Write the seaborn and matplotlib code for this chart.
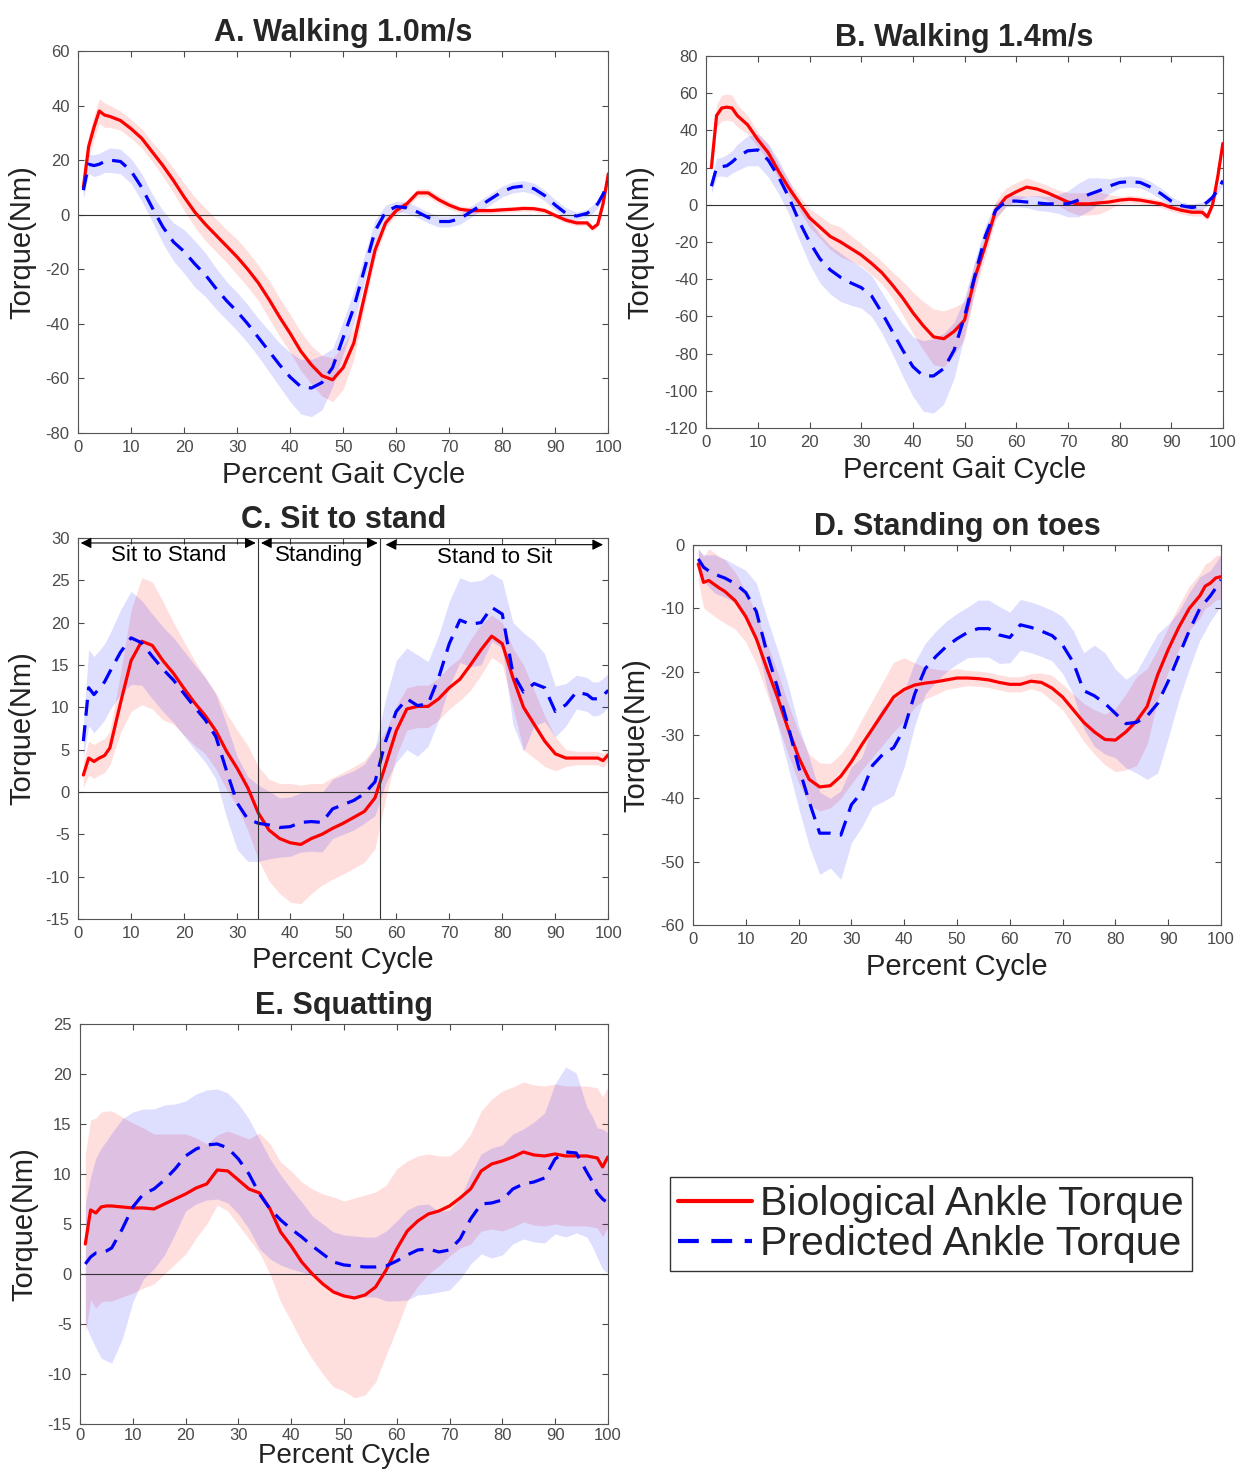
import numpy as np
import matplotlib.pyplot as plt
import seaborn as sns
from matplotlib.lines import Line2D

# percent of cycle where values were read
pct = [1, 2, 3, 4, 5, 6, 8, 10, 12, 14,
       16, 18, 20, 22, 24, 26, 28, 30, 32, 34,
       36, 38, 40, 42, 44, 46, 48, 50, 52, 54,
       56, 58, 60, 62, 64, 66, 68, 70, 72, 74,
       76, 78, 80, 82, 84, 86, 88, 90, 92, 94,
       96, 97, 98, 99, 100]

# A. walking 1.0 m/s
a_bio = [10, 25, 32, 38, 36.5, 36, 34.5, 31.5, 28, 23,
         18, 12.5, 6.5, 1, -3.5, -7.5, -11.5, -15.5, -20, -25,
         -31, -37.5, -43.5, -50, -55, -59, -60.5, -56, -47, -30,
         -13, -3, 1.5, 4, 8, 8, 5.5, 3.5, 2, 1.5,
         1.5, 1.5, 1.8, 2, 2.3, 2.2, 1.5, -0.3, -2, -3,
         -3, -5, -3.5, 4, 15]
a_bio_sd = [3, 4, 4.5, 4.5, 4.5, 4, 3.5, 3.5, 3.5, 3.5,
            4, 4.5, 5, 5.5, 6, 6, 6, 6.5, 6.5, 6.5,
            7, 7, 7, 7, 7, 7.5, 8, 8, 6, 4,
            3, 2, 1.5, 1.5, 1.5, 1.5, 1.5, 1.5, 1.2, 1.2,
            1, 1, 1, 1, 1, 1, 1, 1, 1, 1,
            1, 1, 1, 1, 1]
a_pred = [9, 18.5, 18, 18.5, 19.5, 20, 19.5, 16, 10, 2.5,
          -4.5, -10, -13.5, -18, -22, -27, -31.5, -35.5, -40, -45,
          -50, -55, -59.5, -63, -63.5, -61.5, -56, -45, -34, -20,
          -6, 1, 3, 2.5, 1, -1, -2.5, -2.5, -1.5, 1,
          3.5, 6, 8.5, 10, 10.5, 9.5, 7, 3.5, 0.5, -0.5,
          0.5, 2, 4, 7.5, 12]
a_pred_sd = [3, 3.5, 4, 4, 4, 4.5, 4.5, 4.5, 5, 5,
             6, 7, 8, 8.5, 8, 7.5, 7, 7, 7, 7,
             7.5, 8, 9, 10, 10.5, 10, 7, 6, 6, 5,
             4, 2.5, 2, 2, 2, 2, 2, 2, 2, 2,
             2, 2, 2, 2, 2, 2, 2, 2, 2, 1.5,
             1.5, 1.5, 1.5, 1.5, 1.5]

# B. walking 1.4 m/s
b_bio = [20, 48, 52, 52.5, 52, 48, 43, 35, 28, 18,
         9, 1, -7, -12, -17, -20, -23.5, -27, -31.5, -36.5,
         -43, -50, -58, -65, -71, -72, -68, -62, -39, -22,
         -3, 4, 7, 9.5, 8.5, 6.5, 4, 1.5, 0.5, 0.5,
         1, 1.5, 2.5, 3, 2.5, 1.5, 0.5, -1.5, -3, -4,
         -4, -6.5, 0, 15, 33]
b_bio_sd = [2, 6, 7, 7, 7, 6, 5, 4, 4, 4,
            4, 4, 5, 6, 7, 8, 7, 6, 6, 6,
            7, 9, 11, 13, 15, 15, 13, 10, 8, 6,
            5, 5, 5, 5, 4, 4, 4, 5, 6, 6,
            6, 4, 2, 2, 2, 2, 2, 2, 2, 2,
            2, 2, 2, 2, 2]
b_pred = [10, 20, 20.5, 21, 23, 25.5, 29, 29.5, 24, 15,
          4, -9, -20, -29, -35, -39, -42, -44.5, -49, -58,
          -68, -78, -87, -92, -92, -88, -78, -60, -38, -17,
          -3, 2, 2, 1.5, 1, 0.5, 0.5, 0.5, 2.5, 5.5,
          7.5, 10, 12, 12.5, 12, 9.5, 6, 2, -0.5, -1.5,
          -0.5, 1.5, 4, 8, 13]
b_pred_sd = [4, 5, 5, 6, 6, 7, 8, 8.5, 9, 9,
             9, 10, 12, 13, 13, 13, 12, 11, 11, 11,
             12, 14, 16, 19, 20, 19, 15, 10, 8, 6,
             4, 3, 3, 3, 4, 4, 5, 7, 9, 9,
             7, 4, 3, 3, 3, 3, 3, 2.5, 2, 2,
             2, 2, 2, 2, 2]

# C. sit to stand
c_bio = [2, 4, 3.6, 4, 4.3, 5.2, 10.5, 15.5, 17.8, 17.3,
         15.5, 14, 12.2, 10.5, 9, 7.2, 4.8, 2.8, 0.5, -2.5,
         -4.5, -5.5, -6, -6.2, -5.5, -5, -4.3, -3.7, -3, -2.3,
         -0.7, 3.2, 7.2, 9.8, 10.1, 10.1, 11, 12.3, 13.3, 15,
         16.8, 18.4, 17.5, 13.5, 10, 8, 6, 4.5, 4, 4,
         4, 4, 4, 3.7, 4.4]
c_bio_sd = [1.5, 2, 2, 2, 2, 2, 3.5, 6, 7.5, 7.5,
            7, 6, 5.5, 5, 4.5, 4.5, 4.5, 4.5, 5, 5.5,
            6, 6.5, 7, 7, 6.5, 6, 6, 6, 6, 6,
            6, 4, 3, 2.5, 2.5, 2.5, 2.5, 2.5, 2.5, 3,
            3, 2.5, 2.5, 3.5, 5, 4, 3, 2, 1, 0.8,
            0.8, 0.8, 0.8, 0.8, 0.8]
c_pred = [6, 12.3, 11.5, 12.2, 13, 14.2, 16.5, 18.2, 17.6, 16,
          14.5, 13.2, 11.6, 10, 8.5, 6.5, 2.5, -1.3, -3.2, -3.7,
          -3.9, -4.2, -4.1, -3.6, -3.5, -3.6, -2, -1.5, -1, -0.2,
          1.2, 6, 9.5, 11, 10.2, 10.4, 13.5, 17.5, 20.3, 19.8,
          20, 21.8, 21, 14, 11.8, 12.8, 12.3, 9.5, 10.3, 11.8,
          11.5, 11, 11, 11.4, 12]
c_pred_sd = [2, 4.5, 4.5, 4.5, 4.5, 4.5, 5, 5.5, 5, 5,
             5, 5, 5, 5, 5, 5, 5.5, 5.5, 5, 4.5,
             4, 3.5, 3.5, 3.5, 3.5, 3.5, 3.5, 3.5, 3.5, 3.5,
             4, 5, 6, 6, 6, 5, 5, 5, 5, 5,
             5, 4, 4, 6, 7, 5, 4, 3, 2.5, 2,
             2, 2, 2, 2, 2]
c_phase_ends = [34, 57]
c_phase_names = ["Sit to Stand", "Standing", "Stand to Sit"]

# D. standing on toes
d_bio = [-3, -5.9, -5.6, -6.2, -6.8, -7.3, -8.8, -11.3, -14.8, -19.5,
         -24, -29, -33.5, -37, -38.2, -38, -36.5, -34.2, -31.5, -29,
         -26.5, -24, -22.8, -22.1, -21.8, -21.6, -21.3, -21, -21, -21.1,
         -21.3, -21.7, -22, -22, -21.5, -21.7, -22.6, -24, -26, -28,
         -29.5, -30.7, -30.8, -29.5, -27.8, -25.5, -20.5, -16.5, -13, -10,
         -8, -6.5, -6, -5.2, -5]
d_bio_sd = [2.5, 4, 5, 5, 5, 5, 4.5, 4, 4, 4,
            4, 4, 4, 4, 3.8, 3.5, 3.5, 3.5, 4, 4.5,
            5, 5.5, 5, 3.5, 2.5, 2, 1.5, 1.5, 1.2, 1.2,
            1.2, 1.2, 1.2, 1.2, 1.2, 1.5, 2, 2, 2.5, 3,
            3.5, 4, 5, 6, 7, 6, 4, 3.5, 3.5, 3.5,
            3.5, 3.5, 3.5, 3.5, 3.5]
d_pred = [-2.2, -3.5, -4.1, -4.5, -4.9, -5.2, -6.1, -7.5, -10.5, -17,
          -22.5, -28.5, -35, -40.5, -45.5, -45.5, -45.8, -41, -39, -34.8,
          -33, -32, -29, -23.5, -19.5, -17.6, -16, -14.8, -13.8, -13.2,
          -13.2, -14.2, -14.6, -12.6, -13, -13.6, -14.3, -15.8, -18.5, -23,
          -23.8, -25, -26.6, -28.2, -28, -27, -25, -21.5, -17.5, -13.5,
          -10, -9, -8, -6.8, -5.5]
d_pred_sd = [1.5, 2, 2.5, 3, 3, 3, 3, 3.5, 4.5, 5.5,
             6, 6.5, 6.5, 7, 6.5, 5.5, 7, 6, 5.5, 6.5,
             7.5, 7.5, 6, 5, 4, 4, 4, 4, 4, 4.5,
             4.5, 4.5, 4, 4, 4, 4, 4, 4.5, 5, 6,
             8, 8, 7, 7, 8, 10, 11, 9, 7, 6,
             5, 4.5, 4, 4, 4]

# E. squatting
e_bio = [3, 6.4, 6.1, 6.7, 6.8, 6.8, 6.7, 6.6, 6.6, 6.5,
         7, 7.5, 8, 8.6, 9, 10.4, 10.3, 9.4, 8.5, 8.1,
         6.5, 4.2, 2.8, 1.2, 0, -1, -1.8, -2.2, -2.4, -2.1,
         -1.3, 0.4, 2.5, 4.3, 5.3, 6, 6.3, 6.8, 7.6, 8.5,
         10.3, 11, 11.3, 11.7, 12.2, 11.9, 11.8, 12, 11.8, 11.8,
         11.8, 11.7, 11.6, 10.7, 11.7]
e_bio_sd = [9, 9, 9.5, 9.5, 9.5, 9.5, 9, 8.5, 8, 7.5,
            7, 6.5, 6, 5, 4, 3.5, 4, 4.5, 5, 6,
            6.5, 7, 7.5, 8, 8.5, 9, 9.5, 9.5, 10, 10,
            9.5, 8.5, 8, 7, 6.5, 6, 5.5, 5, 5, 5.5,
            6, 6.5, 7, 7, 7, 7, 7, 7, 7, 7,
            7, 7, 7, 7, 7]
e_pred = [1, 1.7, 2.1, 2.1, 2.3, 2.6, 4.5, 6.7, 8, 8.5,
          9.4, 10.5, 11.8, 12.5, 12.9, 13, 12.6, 11.5, 10, 8,
          6.5, 5.4, 4.5, 3.7, 2.8, 2, 1.2, 0.9, 0.8, 0.7,
          0.7, 0.8, 1.3, 1.9, 2.4, 2.5, 2.2, 2.4, 3.5, 5.5,
          7, 7.1, 7.4, 8.5, 9, 9.2, 9.6, 11.5, 12.2, 12.1,
          10.2, 9.3, 8.1, 7.5, 7.1]
e_pred_sd = [6, 8, 9.5, 10.5, 11, 11.5, 11, 9.5, 8.5, 8,
             7.5, 6.5, 5.5, 5.5, 5.5, 5.5, 5.5, 5.5, 5.5, 5.5,
             5, 4.5, 4, 3.5, 3, 3, 3, 3, 3, 3,
             3, 3.5, 4, 4.5, 4.5, 4.5, 4, 4, 4, 4.5,
             5, 5.5, 5.5, 5.5, 5.5, 6, 6.5, 7.5, 8.5, 8,
             6.5, 6.5, 6.5, 7, 7]

sns.set_style("ticks")
plt.rcParams['font.family'] = ['Liberation Sans', 'DejaVu Sans']
plt.rcParams['axes.unicode_minus'] = False

DASH = (0, (5, 3))
GREY = '#4a4a4a'


def panel(ax, bio, bio_sd, pred, pred_sd, title, xlabel, ylim, ystep,
          xpad=4, xtickpad=5, xsize=21):
    x = np.array(pct)
    bio, bio_sd = np.array(bio), np.array(bio_sd)
    pred, pred_sd = np.array(pred), np.array(pred_sd)
    ax.fill_between(x, bio - bio_sd, bio + bio_sd, color='red', alpha=0.13, lw=0)
    ax.fill_between(x, pred - pred_sd, pred + pred_sd, color='blue', alpha=0.13, lw=0)
    ax.axhline(0, color='#333333', lw=0.8, zorder=1)
    sns.lineplot(x=x, y=bio, ax=ax, color='red', lw=2.3, errorbar=None)
    sns.lineplot(x=x, y=pred, ax=ax, color='blue', lw=2.3, linestyle=DASH, errorbar=None)
    ax.set_xlim(0, 100)
    ax.set_ylim(*ylim)
    ax.set_xticks(range(0, 101, 10))
    ax.set_yticks(np.arange(ylim[0], ylim[1] + 1, ystep))
    ax.tick_params(direction='in', top=True, right=True, length=4, width=0.8,
                   labelsize=12, colors=GREY, labelcolor=GREY)
    ax.tick_params(axis='x', pad=xtickpad)
    ax.tick_params(axis='y', pad=6)
    for s in ax.spines.values():
        s.set_color('#555555')
        s.set_linewidth(0.8)
    ax.set_title(title, fontsize=22, fontweight='bold', pad=7)
    ax.set_xlabel(xlabel, fontsize=xsize, color='#222222', labelpad=xpad)
    ax.set_ylabel('Torque(Nm)', fontsize=21, color='#222222', labelpad=7)


fig = plt.figure(figsize=(12.39, 14.81), dpi=100)
ax_a = fig.add_axes([0.063, 0.7076, 0.428, 0.258])
ax_b = fig.add_axes([0.570, 0.711, 0.417, 0.2512])
ax_c = fig.add_axes([0.063, 0.3795, 0.428, 0.2573])
ax_d = fig.add_axes([0.5593, 0.3754, 0.4262, 0.2566])
ax_e = fig.add_axes([0.0646, 0.0385, 0.426, 0.2701])

panel(ax_a, a_bio, a_bio_sd, a_pred, a_pred_sd, 'A. Walking 1.0m/s', 'Percent Gait Cycle', (-80, 60), 20)
panel(ax_b, b_bio, b_bio_sd, b_pred, b_pred_sd, 'B. Walking 1.4m/s', 'Percent Gait Cycle', (-120, 80), 20)
panel(ax_c, c_bio, c_bio_sd, c_pred, c_pred_sd, 'C. Sit to stand', 'Percent Cycle', (-15, 30), 5)
panel(ax_d, d_bio, d_bio_sd, d_pred, d_pred_sd, 'D. Standing on toes', 'Percent Cycle', (-60, 0), 10)
panel(ax_e, e_bio, e_bio_sd, e_pred, e_pred_sd, 'E. Squatting', 'Percent Cycle', (-15, 25), 5,
      xpad=0, xtickpad=3, xsize=20)

# phase markers for sit to stand
for xv in c_phase_ends:
    ax_c.axvline(xv, color='#333333', lw=0.8)
spans = [(0.5, c_phase_ends[0] - 0.5, 29.4), (c_phase_ends[0] + 0.5, c_phase_ends[1] - 0.5, 29.4),
         (c_phase_ends[1] + 1.0, 99.0, 29.2)]
for (x0, x1, yv), name in zip(spans, c_phase_names):
    ax_c.annotate('', xy=(x1, yv), xytext=(x0, yv),
                  arrowprops=dict(arrowstyle='<|-|>', color='black', lw=0.8,
                                  mutation_scale=16, shrinkA=0, shrinkB=0))
    ax_c.text((x0 + x1) / 2, yv - 1.5, name, ha='center', va='center', fontsize=16, color='black')

handles = [Line2D([], [], color='red', lw=3),
           Line2D([], [], color='blue', lw=3, linestyle=DASH)]
fig.legend(handles, ['Biological Ankle Torque', 'Predicted Ankle Torque'],
           loc='upper left', bbox_to_anchor=(0.5408, 0.2053), fontsize=29.5,
           frameon=True, fancybox=False, edgecolor='#333333', framealpha=1,
           handlelength=1.8, handletextpad=0.2, borderpad=0.2, labelspacing=0.05,
           borderaxespad=0)

fig.savefig('out.png', dpi=100)
